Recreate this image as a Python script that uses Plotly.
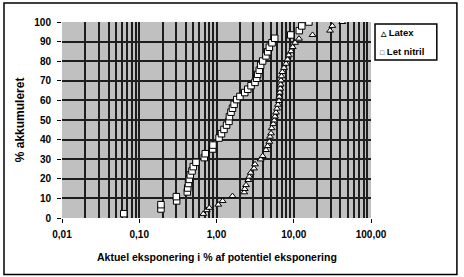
import plotly.graph_objects as go

# Data
nitril_x = [0.063, 0.191, 0.191, 0.305, 0.302, 0.419, 0.424, 0.434, 0.445, 0.458,
            0.482, 0.501, 0.543, 0.695, 0.716, 0.893, 0.90, 1.08, 1.16, 1.25,
            1.35, 1.45, 1.47, 1.54, 1.61, 1.69, 1.83, 2.01, 2.32, 2.54,
            2.80, 3.15, 3.31, 3.41, 3.58, 3.73, 3.96, 4.37, 4.60, 4.83,
            5.23, 5.67, 9.14, 11.8, 12.7, 15.7]
nitril_y = [2.2, 4.6, 6.8, 8.7, 10.9, 13.3, 15.3, 17.6, 19.7, 22.0,
            24.0, 26.2, 28.4, 30.8, 32.8, 35.2, 37.2, 40.8, 43.0, 45.2,
            47.4, 49.3, 51.7, 54.0, 56.0, 58.0, 60.4, 62.0, 64.0, 65.7,
            67.5, 69.2, 71.3, 73.3, 75.4, 77.9, 80.1, 82.7, 84.8, 87.1,
            89.4, 91.7, 93.4, 95.6, 98.0, 100.0]

latex_x = [0.675, 0.747, 0.807, 1.055, 1.20, 1.61, 2.29, 2.32, 2.41, 2.58,
           2.66, 2.77, 3.06, 3.15, 3.73, 3.96, 4.37, 4.60, 4.83, 4.93,
           5.08, 5.18, 5.44, 5.60, 5.72, 5.89, 6.07, 6.25, 6.44, 6.50,
           6.58, 6.70, 6.77, 6.84, 6.94, 7.11, 7.48, 7.94, 8.30, 8.61,
           9.21, 9.69, 10.4, 11.7, 17.5, 29.5, 31.6, 42.5]
latex_y = [2.1, 4.0, 5.2, 6.8, 8.7, 11.2, 13.1, 14.8, 16.8, 19.4,
           21.1, 23.1, 25.3, 27.4, 29.9, 31.6, 34.7, 36.7, 38.9, 41.5,
           43.2, 45.8, 48.0, 49.8, 51.8, 53.8, 55.8, 57.8, 59.7, 61.9,
           64.0, 66.0, 68.1, 70.2, 72.3, 74.5, 76.6, 78.7, 80.9, 83.0,
           85.1, 87.2, 89.4, 91.5, 93.4, 95.6, 98.0, 100.0]

series_names = ["Latex", "Let nitril"]

x_tickvals = [0.01, 0.1, 1, 10, 100]
x_ticktext = ["0,01", "0,10", "1,00", "10,00", "100,00"]
y_tickvals = [0, 10, 20, 30, 40, 50, 60, 70, 80, 90, 100]

x_title = "Aktuel eksponering i % af potentiel eksponering"
y_title = "% akkumuleret"

FONT = "Liberation Sans"
GRID = "#1e1e1e"

minor_vals = [m * 10 ** e for e in range(-2, 2) for m in range(2, 10)]

fig = go.Figure()
fig.add_trace(go.Scatter(
    x=latex_x, y=latex_y, mode="markers", name=series_names[0],
    marker=dict(symbol="triangle-up", size=6, color="white",
                line=dict(color="black", width=1)),
))
fig.add_trace(go.Scatter(
    x=nitril_x, y=nitril_y, mode="markers", name=series_names[1],
    marker=dict(symbol="square", size=6.5, color="white",
                line=dict(color="black", width=1)),
))

bold = dict(family=FONT, size=10, color="black", weight="bold")
legfont = dict(family=FONT, size=9.5, color="black", weight="bold")

fig.update_layout(
    width=464, height=277,
    margin=dict(l=62, r=93, t=22, b=59, autoexpand=False),
    paper_bgcolor="white",
    plot_bgcolor="#c0c0c0",
    font=dict(family=FONT, size=10, color="black"),
    showlegend=False,
    xaxis=dict(
        type="log", range=[-2, 2],
        tickvals=x_tickvals, ticktext=x_ticktext,
        ticks="outside", ticklen=4, tickcolor="black", tickwidth=1,
        showgrid=True, gridcolor=GRID, gridwidth=1.5,
        minor=dict(tickvals=minor_vals, showgrid=True, gridcolor=GRID,
                   gridwidth=1.5, ticks=""),
        showline=False, zeroline=False,
        tickfont=bold,
        ticklabelstandoff=3,
    ),
    yaxis=dict(
        range=[0, 100], tickvals=y_tickvals,
        ticks="outside", ticklen=4, tickcolor="black", tickwidth=1,
        showgrid=True, gridcolor=GRID, gridwidth=1.5,
        showline=False, zeroline=False,
        tickfont=bold,
        ticklabelstandoff=4,
    ),
    shapes=[
        dict(type="rect", xref="paper", yref="paper",
             x0=-0.1877, x1=1.278, y0=-0.288, y1=1.097,
             line=dict(color="black", width=1.5)),
        dict(type="rect", xref="paper", yref="paper",
             x0=1.013, x1=1.213, y0=0.806, y1=0.990,
             fillcolor="white", line=dict(color="black", width=1.5)),
    ],
    annotations=[
        dict(text=x_title, xref="paper", yref="paper", x=0.5, y=-0.2,
             xanchor="center", yanchor="middle", showarrow=False,
             font=dict(family=FONT, size=10.5, color="black", weight="bold")),
        dict(text=y_title, xref="paper", yref="paper", x=-0.135, y=0.5,
             xanchor="center", yanchor="middle", showarrow=False, textangle=-90,
             font=dict(family=FONT, size=12, color="black", weight="bold")),
        dict(text="<span style='font-size:7px'>\u25b3</span> " + series_names[0],
             xref="paper", yref="paper", x=1.024, y=0.944,
             xanchor="left", yanchor="middle", showarrow=False, font=legfont),
        dict(text="<span style='font-size:7px'>\u25a1</span> " + series_names[1],
             xref="paper", yref="paper", x=1.024, y=0.849,
             xanchor="left", yanchor="middle", showarrow=False, font=legfont),
    ],
)

fig.write_html("out.html")
